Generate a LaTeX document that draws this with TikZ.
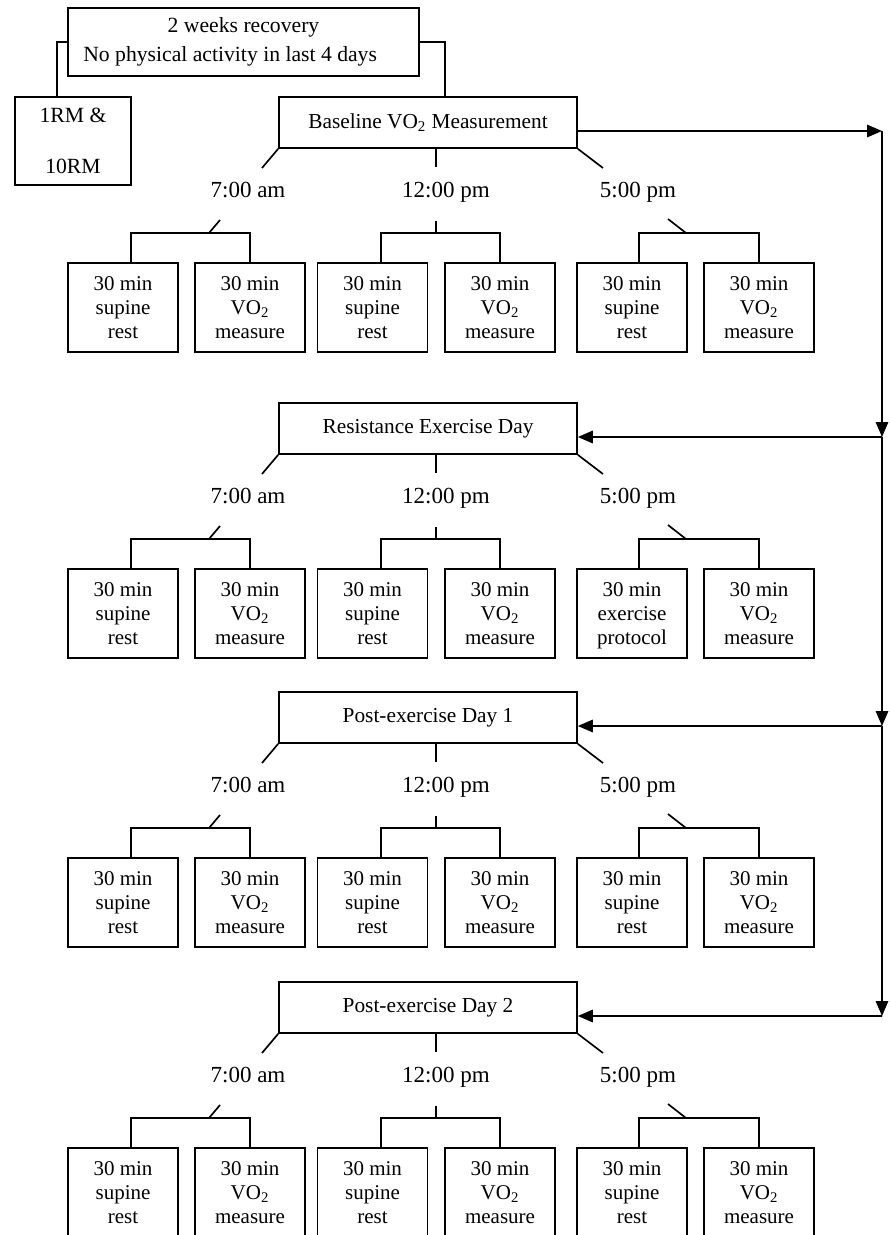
\documentclass[tikz,border=0pt]{standalone}
\usepackage{fontspec}
\setmainfont{Liberation Serif}
\usetikzlibrary{arrows.meta, positioning}
\tikzset{
  note/.style={rectangle, draw, line width=1pt, align=center,
    font=\fontsize{13}{17.5}\selectfont},
  stage/.style={rectangle, draw, line width=1pt, minimum width=178.8pt,
    minimum height=30.6pt, font=\fontsize{12.8}{15}\selectfont},
  task/.style={rectangle, draw, line width=1pt, minimum width=66pt,
    minimum height=53.4pt, align=center, inner sep=1pt, text depth=0pt,
    font=\fontsize{12.6}{14.4}\selectfont},
  timelbl/.style={inner sep=0pt, text height=9pt, text depth=3pt,
    font=\fontsize{13.8}{16}\selectfont},
  link/.style={line width=1pt},
  flow/.style={line width=1pt, -{Triangle[length=9pt, width=7.5pt]}}
}
\begin{document}
\begin{tikzpicture}[x=0.6pt, y=-0.6pt]
  \useasboundingbox (0,0) rectangle (890,1235);
  \node[note, minimum width=210.6pt, minimum height=40.8pt] (rec) at (243.5,42)
    {2 weeks recovery\\No physical activity in last 4 days\hspace*{16pt}};
  \node[note, minimum width=69.6pt, minimum height=52.8pt] (rm) at (73,141)
    {1RM \&\\[13pt]10RM};

  % one block per test day
  \foreach \T/\day/\name/\act in {
      97/base/{Baseline VO\textsubscript{2} Measurement}/{supine\\rest},
      403/res/{Resistance Exercise Day}/{exercise\\protocol},
      692/post1/{Post-exercise Day 1}/{supine\\rest},
      982/post2/{Post-exercise Day 2}/{supine\\rest}} {
    \node[stage] (\day) at (428,\T+25.5) {\name};
    \node[timelbl] (\day-am) at (248,\T+95) {7:00 am};
    \node[timelbl] (\day-noon) at (446,\T+95) {12:00 pm};
    \node[timelbl] (\day-pm) at (638,\T+95) {5:00 pm};
    \node[task] (\day-a1) at (123,\T+210.5) {30 min\\supine\\rest};
    \node[task] (\day-a2) at (250,\T+210.5) {30 min\\VO\textsubscript{2}\\measure};
    \node[task] (\day-b1) at (372.5,\T+210.5) {30 min\\supine\\rest};
    \node[task] (\day-b2) at (500,\T+210.5) {30 min\\VO\textsubscript{2}\\measure};
    \node[task] (\day-c1) at (632,\T+210.5) {30 min\\\act};
    \node[task] (\day-c2) at (759,\T+210.5) {30 min\\VO\textsubscript{2}\\measure};
    \coordinate (\day-u1) at (262,\T+71);
    \coordinate (\day-u2) at (436,\T+70);
    \coordinate (\day-u3) at (603,\T+71);
    \coordinate (\day-s1) at (220,\T+123);
    \coordinate (\day-s2) at (436,\T+124);
    \coordinate (\day-s3) at (668,\T+122);
    \coordinate (\day-h1) at (209,\T+136);
    \coordinate (\day-h2) at (436,\T+136);
    \coordinate (\day-h3) at (686,\T+136);
    \coordinate (\day-in) at (882,\T+34);
    \draw[link] (\day.south west) -- (\day-u1);
    \draw[link] (\day-u2 |- \day.south) -- (\day-u2);
    \draw[link] (\day.south east) -- (\day-u3);
    \draw[link] (\day-s1) -- (\day-h1);
    \draw[link] (\day-s2) -- (\day-h2);
    \draw[link] (\day-s3) -- (\day-h3);
    \draw[link] ([xshift=4.8pt]\day-a1.north) |- (\day-h1) -| (\day-a2.north);
    \draw[link] ([xshift=5.1pt]\day-b1.north) |- (\day-h2) -| (\day-b2.north);
    \draw[link] ([xshift=4.2pt]\day-c1.north) |- (\day-h3) -| (\day-c2.north);
  }

  \draw[link] (rec.west) -| ([xshift=-9.6pt]rm.north);
  \draw[link] (rec.east) -| ([xshift=10.2pt]base.north);
  \draw[flow] ([yshift=-5.1pt]base.east) -- (base-in);
  \foreach \a/\b in {base/res, res/post1, post1/post2} {
    \draw[flow] (\a-in) -- (\b-in);
    \draw[flow] (\b-in) -- ([yshift=-5.1pt]\b.east);
  }
\end{tikzpicture}
\end{document}
